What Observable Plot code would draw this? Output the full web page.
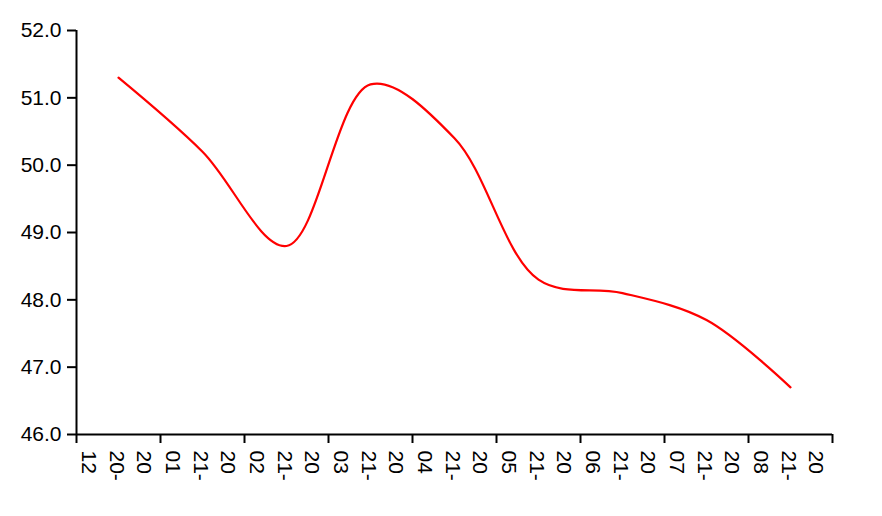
<!DOCTYPE html>
<html><head><meta charset="utf-8">
<script src="https://cdn.jsdelivr.net/npm/d3@7"></script>
<script src="https://cdn.jsdelivr.net/npm/@observablehq/plot@0.6"></script>
<style>html,body{margin:0;padding:0;background:#fff} svg{display:block}</style>
</head><body><div id="chart"></div>
<script>
const months = ["2020-12","2021-01","2021-02","2021-03","2021-04","2021-05","2021-06","2021-07","2021-08"];
const values = [51.3, 50.2, 48.8, 51.2, 50.4, 48.3, 48.1, 47.7, 46.7];
const yTicks = [46, 47, 48, 49, 50, 51, 52];

const idx = months.map((m, i) => i);
const boundaries = months.map((m, i) => i - 0.5).concat([months.length - 0.5]);
const wrap = s => s.slice(0, 2) + "\n" + s.slice(2, 5) + "\n" + s.slice(5);

const chart = Plot.plot({
  width: 882,
  height: 516,
  marginLeft: 76,
  marginRight: 50,
  marginTop: 30,
  marginBottom: 82,
  style: {fontFamily: "'Liberation Sans', Arial, Helvetica, sans-serif", color: "#000", background: "#fff"},
  x: {domain: [-0.5, months.length - 0.5], axis: null},
  y: {domain: [46, 52], axis: null},
  marks: [
    Plot.axisY({ticks: yTicks, tickFormat: d3.format(".1f"), tickSize: 9, tickPadding: 6, fontSize: 21, strokeWidth: 2, label: null}),
    Plot.axisX({ticks: boundaries, tickSize: 9, strokeWidth: 2, fill: "none", label: null}),
    Plot.ruleX([-0.5], {stroke: "#000", strokeWidth: 2}),
    Plot.ruleY([46], {stroke: "#000", strokeWidth: 2}),
    Plot.text(idx, {x: d => d, frameAnchor: "bottom", dy: 16, text: d => wrap(months[d]), rotate: 90,
      textAnchor: "start", lineAnchor: "middle", lineHeight: 1.3, fontSize: 21, fill: "#000"}),
    Plot.line(idx, {x: d => d, y: d => values[d], curve: "catmull-rom", stroke: "#f00", strokeWidth: 2.2})
  ]
});
document.getElementById("chart").append(chart);
</script>
</body></html>
